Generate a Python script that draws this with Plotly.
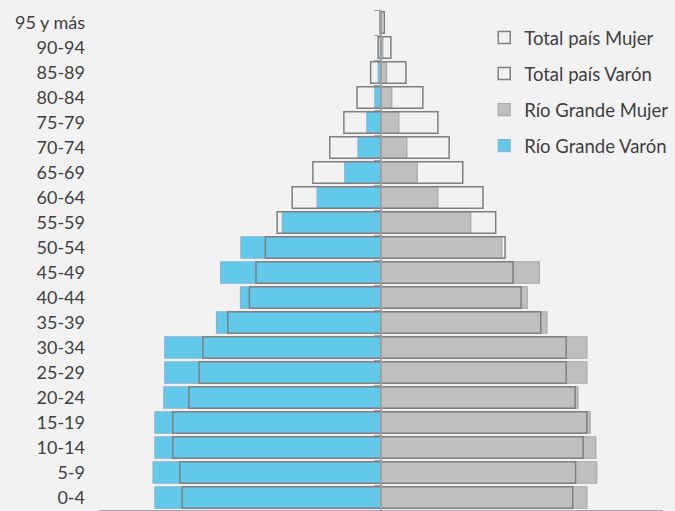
import plotly.graph_objects as go

ages = ["0-4", "5-9", "10-14", "15-19", "20-24", "25-29", "30-34", "35-39",
        "40-44", "45-49", "50-54", "55-59", "60-64", "65-69", "70-74", "75-79",
        "80-84", "85-89", "90-94", "95 y más"]

# Percent of population (men shown to the left as negative)
total_varon = [4.23, 4.28, 4.43, 4.43, 4.09, 3.87, 3.79, 3.26, 2.80, 2.66,
               2.46, 2.21, 1.89, 1.45, 1.09, 0.79, 0.51, 0.22, 0.06, 0.02]
total_mujer = [4.08, 4.14, 4.30, 4.38, 4.13, 3.94, 3.94, 3.40, 2.98, 2.81,
               2.64, 2.44, 2.17, 1.74, 1.45, 1.21, 0.89, 0.53, 0.21, 0.07]
rg_varon = [4.81, 4.85, 4.81, 4.81, 4.62, 4.60, 4.60, 3.50, 2.99, 3.41,
            2.98, 2.10, 1.36, 0.77, 0.49, 0.30, 0.13, 0.06, 0.02, 0.01]
rg_mujer = [4.38, 4.59, 4.57, 4.45, 4.19, 4.38, 4.38, 3.53, 3.11, 3.37,
            2.57, 1.91, 1.21, 0.77, 0.55, 0.38, 0.23, 0.12, 0.04, 0.02]

x_ticks = [-6, -4, -2, 0, 2, 4, 6]

FONT = "Lato"
TXT = "#404040"
BG = "#f2f2f2"

fig = go.Figure()

fig.add_trace(go.Bar(
    y=ages, x=[-v for v in rg_varon], orientation="h", name="Río Grande Varón",
    marker=dict(color="#62c9eb", line=dict(color="#86b3cf", width=1.2)),
    legendrank=4, legendgroup="d", hoverinfo="skip"))
fig.add_trace(go.Bar(
    y=ages, x=rg_mujer, orientation="h", name="Río Grande Mujer",
    marker=dict(color="#bfbfbf", line=dict(color="#a8a8a8", width=1.2)),
    legendrank=3, legendgroup="c", hoverinfo="skip"))
fig.add_trace(go.Bar(
    y=ages, x=[-v for v in total_varon], orientation="h", name="Total país Varón",
    marker=dict(color="rgba(255,255,255,0)", line=dict(color="#7f7f7f", width=1.5)),
    legendrank=2, legendgroup="b", hoverinfo="skip"))
fig.add_trace(go.Bar(
    y=ages, x=total_mujer, orientation="h", name="Total país Mujer",
    marker=dict(color="rgba(255,255,255,0)", line=dict(color="#7f7f7f", width=1.5)),
    legendrank=1, legendgroup="a", hoverinfo="skip"))

# helper trace to carry the central axis (ticks at category boundaries)
fig.add_trace(go.Scatter(
    y=ages, x=[0] * len(ages), yaxis="y2", mode="none", showlegend=False,
    hoverinfo="skip"))

fig.update_layout(
    width=675, height=511,
    paper_bgcolor=BG, plot_bgcolor=BG,
    barmode="overlay", bargap=0.14,
    margin=dict(l=99, r=12, t=10, b=1, autoexpand=False),
    font=dict(family=FONT, color=TXT, size=18),
    xaxis=dict(range=[-6, 6], tickvals=x_ticks, showticklabels=False,
               ticks="outside", ticklen=5, tickcolor="#a6a6a6",
               showline=True, linecolor="#a6a6a6", linewidth=1,
               showgrid=False, zeroline=False, automargin=False, fixedrange=True),
    yaxis=dict(type="category", categoryorder="array", categoryarray=ages,
               range=[-0.5, 19.5], showgrid=False, showline=False, ticks="",
               ticklabelstandoff=13, tickfont=dict(size=18, color=TXT, family=FONT),
               automargin=False, fixedrange=True),
    yaxis2=dict(type="category", categoryorder="array", categoryarray=ages,
                overlaying="y", matches="y", anchor="free", position=0.5, side="left",
                showline=True, linecolor="#a0a0a0", linewidth=1.5,
                ticks="outside", ticklen=6, tickcolor="#a0a0a0", tickson="boundaries",
                showticklabels=False, showgrid=False, automargin=False, fixedrange=True),
    legend=dict(x=0.683, y=0.982, xanchor="left", yanchor="top",
                bgcolor="rgba(0,0,0,0)", font=dict(size=18.5, color=TXT, family=FONT),
                traceorder="grouped", tracegroupgap=9, itemclick=False),
    showlegend=True,
)

fig.write_html(
    "out.html",
    config={"displayModeBar": False},
    post_script="document.body.style.margin='0';document.body.style.overflow='hidden';",
)
